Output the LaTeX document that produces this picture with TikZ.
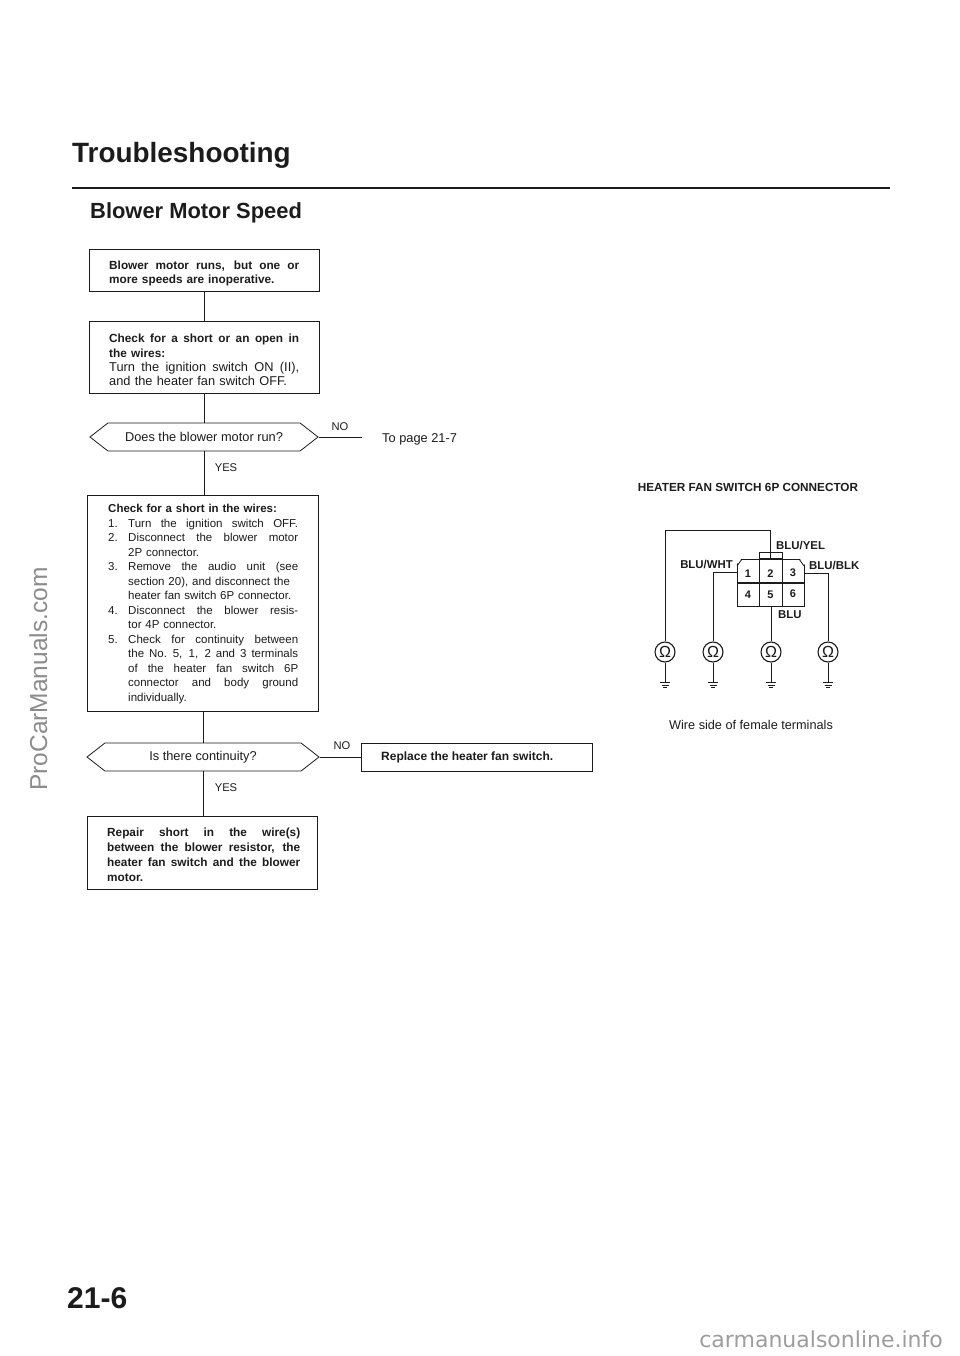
\documentclass[tikz,border=0pt]{standalone}
\usepackage{fontspec}
\setmainfont{Liberation Sans}
\newfontfamily\wmfont{DejaVu Sans}
\usetikzlibrary{shapes.symbols}
\definecolor{ink}{HTML}{1C1C1C}
\definecolor{mark}{HTML}{8C8C8C}
\newcommand{\J}[1]{\leavevmode\hbox to \linewidth{\spaceskip=0pt plus 1fil\relax #1}}
\newcommand{\IT}[2]{\leavevmode\hbox to \linewidth{\hbox to 20pt{#1\hfil}\spaceskip=0pt plus 1fil\relax #2}}
\newcommand{\IN}[1]{\leavevmode\hbox{\hspace{20pt}#1}}
\newcommand{\JN}[1]{\leavevmode\hbox to \linewidth{\hspace{20pt}\spaceskip=0pt plus 1fil\relax #1}}
\begin{document}
\begin{tikzpicture}[x=1pt,y=-1pt,
  every node/.style={text=ink,inner sep=0pt,font=\fontsize{12.8}{14.4}\selectfont},
  boxa/.style={draw=ink,line width=0.8pt,rectangle,anchor=north west},
  body/.style={anchor=north west,align=left},
  dec/.style={draw=ink,line width=0.8pt,signal,signal to=west and east,signal pointer angle=76,minimum height=28pt},
  flow/.style={draw=ink,line width=0.8pt},
  lab/.style={font=\fontsize{11.2}{13}\selectfont},
  wire/.style={draw=ink,line width=0.8pt},
  bl/.style={font=\bfseries\fontsize{11.4}{13}\selectfont},
  cell/.style={draw=ink,line width=0.8pt,rectangle},
  ohm/.style={draw=ink,line width=1.1pt,circle,minimum size=20pt,font=\fontsize{16}{16}\selectfont},
  gnd/.style={line width=0.7pt,draw=ink}]
\useasboundingbox (0,0) rectangle (960,1356);
\fill[white] (0,0) rectangle (960,1356);

% headings
\node[anchor=base west,font=\bfseries\fontsize{27.9}{30}\selectfont] (title) at (72,163) {Troubleshooting};
\coordinate (ruleL) at (72,188);
\coordinate (ruleR) at (890,188);
\draw[draw=ink,line width=1.6pt] (ruleL) -- (ruleR);
\node[anchor=base west,font=\bfseries\fontsize{21.9}{26}\selectfont] (sub) at (90,219) {Blower Motor Speed};
\node[anchor=base west,font=\bfseries\fontsize{30}{32}\selectfont] (page) at (67,1308) {21-6};

% flowchart boxes
\node[boxa,minimum width=230pt,minimum height=42pt] (b1) at (89,249) {};
\node[body,text width=190pt,font=\bfseries\fontsize{11.8}{13.6}\selectfont] (t1) at (109,261) {\J{Blower motor runs, but one or}\\more speeds are inoperative.};
\node[boxa,minimum width=230pt,minimum height=72pt] (b2) at (89,321) {};
\node[body,text width=190pt] (t2) at (109,334) {\J{\fontsize{11.8}{14.4}\selectfont\bfseries Check for a short or an open in}\\{\fontsize{11.8}{14.4}\selectfont\bfseries the wires:}\\\J{Turn the ignition switch ON (II),}\\and the heater fan switch OFF.};
\node[dec,minimum width=228pt] (d1) at (204,437) {Does the blower motor run?};
\node[boxa,minimum width=231pt,minimum height=216pt] (b3) at (87,495) {};
\node[body,text width=190pt,font=\fontsize{11.5}{14.5}\selectfont] (t3) at (108,504) {{\bfseries Check for a short in the wires:}\\
\IT{1.}{Turn the ignition switch OFF.}\\
\IT{2.}{Disconnect the blower motor}\\
\IN{2P connector.}\\
\IT{3.}{Remove the audio unit (see}\\
\IN{section 20), and disconnect the}\\
\IN{heater fan switch 6P connector.}\\
\IT{4.}{Disconnect the blower resis-}\\
\IN{tor 4P connector.}\\
\IT{5.}{Check for continuity between}\\
\JN{the No. 5, 1, 2 and 3 terminals}\\
\JN{of the heater fan switch 6P}\\
\JN{connector and body ground}\\
\IN{individually.}};
\node[dec,minimum width=232pt] (d2) at (203,757) {Is there continuity?};
\node[boxa,minimum width=231pt,minimum height=28pt] (b5) at (361,743) {};
\node[anchor=west,font=\bfseries\fontsize{12}{14}\selectfont] (t5) at (381,757) {Replace the heater fan switch.};
\node[boxa,minimum width=230pt,minimum height=73pt] (b4) at (87,816) {};
\node[body,text width=193pt,font=\bfseries\fontsize{11.8}{15}\selectfont] (t4) at (107,828) {\J{Repair short in the wire(s)}\\\J{between the blower resistor, the}\\\J{heater fan switch and the blower}\\motor.};

% flow connectors
\coordinate (noEnd) at (362,437);
\coordinate (sa) at (204,0);
\coordinate (sb) at (203,0);
\draw[flow] (b1.south -| sa) -- (b2.north -| sa);
\draw[flow] (b2.south -| sa) -- (d1.north -| sa);
\draw[flow] (d1.south -| sa) -- (b3.north -| sa);
\draw[flow] (b3.south -| sb) -- (d2.north -| sb);
\draw[flow] (d2.south -| sb) -- (b4.north -| sb);
\draw[flow] (d1.east) -- (d1.east -| noEnd);
\draw[flow] (d2.east) -- (d2.east -| b5.west);

% flow labels
\node[lab] (no1) at (340,427) {NO};
\node[lab] (yes1) at (226,468) {YES};
\node[anchor=west] (topage) at (382,439) {To page 21-7};
\node[lab] (no2) at (342,746) {NO};
\node[lab] (yes2) at (226,788) {YES};

% connector diagram
\node[font=\bfseries\fontsize{11.75}{13}\selectfont] (ctitle) at (748,487) {HEATER FAN SWITCH 6P CONNECTOR};
\foreach \n/\x/\y/\w in {1/737/559/22,2/759/559/23,3/782/559/22,4/737/583/22,5/759/583/23,6/782/583/22}{
  \node[cell,anchor=north west,minimum width=\w pt,minimum height=23pt] (c\n) at (\x,\y) {};
}
\foreach \n/\x/\y in {1/748/574,2/770.5/574,3/793/573,4/748/595,5/770.5/595,6/793/594}{
  \node[font=\bfseries\fontsize{11}{13}\selectfont] (p\n) at (\x,\y) {\n};
}
\fill[white] (736,558) -- (742,558) -- (736,565) -- cycle;
\fill[white] (805,558) -- (799,558) -- (805,565) -- cycle;
\draw[wire] (737,566) -- (742,559);
\draw[wire] (804,566) -- (799,559);
\node[draw=ink,line width=0.8pt,rectangle,anchor=south west,minimum width=23pt,minimum height=6pt] (tab) at (759,559) {};

\foreach \n/\x in {1/665,2/713,3/771,4/828}{
  \node[ohm] (m\n) at (\x,652) {Ω};
  \coordinate (g\n) at (\x,682);
  \draw[wire] (m\n) -- (g\n);
  \draw[gnd] (\x-5,682) -- (\x+5,682);
  \draw[gnd] (\x-3.5,685) -- (\x+3.5,685);
  \draw[gnd] (\x-2,687.5) -- (\x+2,687.5);
}
\coordinate (top) at (770,530);
\coordinate (pin2) at (770,558);
\coordinate (pin1) at (737,572);
\coordinate (pin3) at (804,573);
\draw[wire] (m1) |- (top) -- (pin2);
\draw[wire] (m2) |- (pin1);
\draw[wire] (m4) |- (pin3);
\draw[wire] (m3) -- (m3 |- c5.south);

\node[bl,anchor=west] (lyel) at (776,545) {BLU/YEL};
\node[bl,anchor=east] (lwht) at (733,564) {BLU/WHT};
\node[bl,anchor=west] (lblk) at (809,565) {BLU/BLK};
\node[bl,anchor=west] (lblu) at (778,615) {BLU};
\node[font=\fontsize{12.7}{14}\selectfont] (wirenote) at (751,725) {Wire side of female terminals};

% watermarks
\node[rotate=90,anchor=base,text=mark,font=\fontsize{24.5}{26}\selectfont] (wm1) at (47,679) {ProCarManuals.com};
\node[anchor=base east,text=mark!85,font=\wmfont\fontsize{22}{24}\selectfont] (wm2) at (943,1347) {carmanualsonline.info};
\end{tikzpicture}
\end{document}
